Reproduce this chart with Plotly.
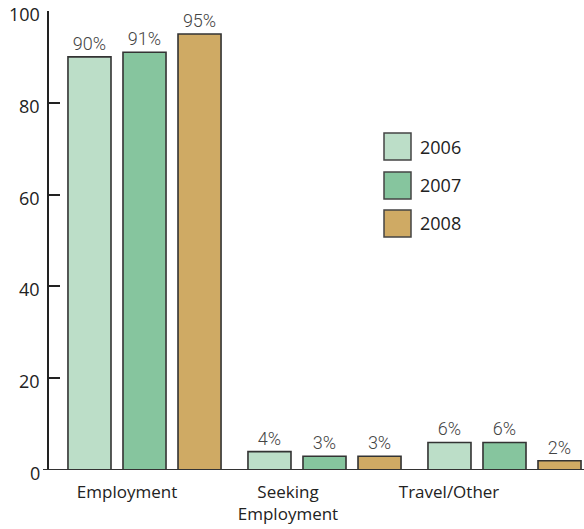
import plotly.graph_objects as go

categories = ["Employment", "Seeking<br>Employment", "Travel/Other"]
years = ["2006", "2007", "2008"]
values_2006 = [90, 4, 6]
values_2007 = [91, 3, 6]
values_2008 = [95, 3, 2]
colors = ["#bcdec8", "#86c59e", "#cfaa64"]
y_ticks = [0, 20, 40, 60, 80, 100]

series = [values_2006, values_2007, values_2008]
xpos = list(range(len(categories)))

fig = go.Figure()
for yr, vals, col in zip(years, series, colors):
    fig.add_trace(go.Bar(
        x=xpos, y=vals, name=yr,
        marker=dict(color=col, line=dict(color="#333333", width=1.6)),
        text=[f"{v}%" for v in vals], textposition="outside",
        textfont=dict(family="Roboto", size=18, color="#444444", weight=300),
        cliponaxis=False, showlegend=False,
    ))

W, H = 584, 529
L, R, T, B = 49, 0, 11, 59
pw, ph = W - L - R, H - T - B
def px(x):
    return (x - L) / pw
def py(y):
    return (H - B - y) / ph

shapes = []
annotations = []
box_tops = [133, 172, 210]
for yr, col, top in zip(years, colors, box_tops):
    shapes.append(dict(type="rect", xref="paper", yref="paper",
                       x0=px(384), x1=px(411), y0=py(top + 27), y1=py(top),
                       fillcolor=col, line=dict(color="#444444", width=1.5)))
    annotations.append(dict(xref="paper", yref="paper", x=px(418), y=py(top + 13.5),
                            text=yr, showarrow=False, xanchor="left", yanchor="middle",
                            font=dict(family="Open Sans", size=18, color="#222222")))

# y tick labels (sit a little below their tick marks, as in the reference)
for v in y_ticks:
    annotations.append(dict(xref="paper", yref="y", x=px(41), y=v, yshift=-3,
                            text=str(v), showarrow=False, xanchor="right",
                            yanchor="middle", borderpad=0,
                            font=dict(family="Open Sans", size=18, color="#222222")))

# x axis baseline extending slightly left of the y axis
shapes.append(dict(type="line", xref="paper", yref="y", x0=px(43), x1=1, y0=0, y1=0,
                   line=dict(color="#333333", width=2)))

fig.update_layout(
    width=W, height=H,
    margin=dict(l=L, r=R, t=T, b=B, autoexpand=False),
    paper_bgcolor="white", plot_bgcolor="white",
    barmode="group", bargap=0.083, bargroupgap=0.218,
    showlegend=False,
    shapes=shapes, annotations=annotations,
    xaxis=dict(
        range=[-0.5306, 2.4417],
        tickvals=[-0.097, 0.797, 1.692],
        ticktext=categories,
        showline=False, showgrid=False, zeroline=False, ticks="",
        tickfont=dict(family="Open Sans", size=17, color="#222222"),
        ticklabelstandoff=10,
        automargin=False,
    ),
    yaxis=dict(
        range=[0, 100], tickvals=y_ticks, showticklabels=False,
        showline=True, linecolor="#222222", linewidth=2,
        ticks="inside", ticklen=11, tickwidth=2, tickcolor="#222222",
        showgrid=False, zeroline=False, automargin=False,
    ),
)

fig.write_html("out.html", config={"displayModeBar": False},
               post_script="document.body.style.margin='0';")
